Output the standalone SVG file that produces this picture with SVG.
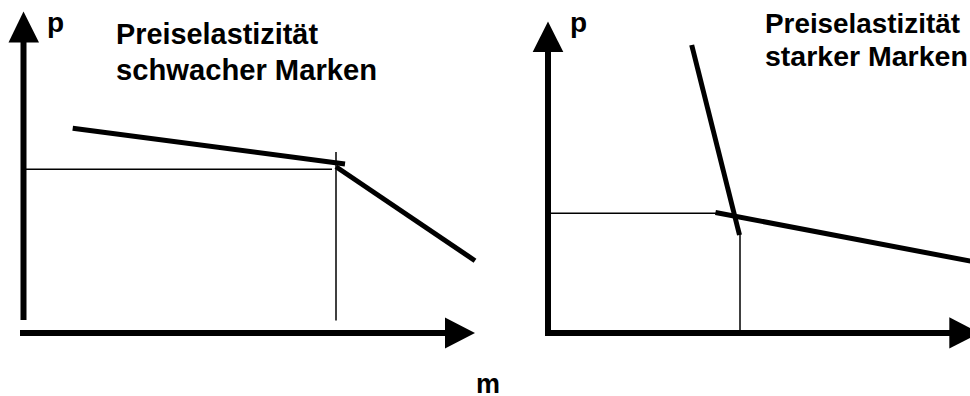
<svg xmlns="http://www.w3.org/2000/svg" width="970" height="396" viewBox="0 0 970 396">
<style>
.axis{stroke:#000;stroke-width:6;fill:none}
.curve{stroke:#000;stroke-width:5;fill:none}
.thin{stroke:#000;stroke-width:1.5;fill:none}
.head{fill:#000}
.t{font-family:"Liberation Sans",Arial,sans-serif;font-weight:bold;fill:#000}
</style>
<rect width="970" height="396" fill="#fff"/>
<g id="left-chart">
  <g id="left-axes">
    <line class="axis" x1="23.5" y1="320" x2="23.5" y2="40"/>
    <polygon class="head" points="23.5,11.5 8.5,42.5 39,42.5"/>
    <line class="axis" x1="20" y1="333" x2="447" y2="333"/>
    <polygon class="head" points="475,333 445,317.5 445,348.5"/>
  </g>
  <g id="left-guides">
    <line class="thin" x1="25" y1="169.3" x2="332" y2="169.3"/>
    <line class="thin" x1="336" y1="152" x2="336" y2="320.5"/>
  </g>
  <g id="left-curves">
    <line class="curve" x1="72.7" y1="128.3" x2="345" y2="164"/>
    <line class="curve" x1="336" y1="166.7" x2="475" y2="260.7"/>
  </g>
  <text class="t" x="47" y="32" font-size="28">p</text>
  <text class="t" x="116" y="44" font-size="29" textLength="202" lengthAdjust="spacingAndGlyphs">Preiselastizität</text>
  <text class="t" x="116" y="80" font-size="29" textLength="261" lengthAdjust="spacingAndGlyphs">schwacher Marken</text>
</g>
<g id="right-chart">
  <g id="right-axes">
    <line class="axis" x1="548" y1="336" x2="548" y2="50"/>
    <polygon class="head" points="548,21.5 532.7,52 563.3,52"/>
    <line class="axis" x1="545" y1="333" x2="952" y2="333"/>
    <polygon class="head" points="980,333 949.3,317.3 949.3,348.5"/>
  </g>
  <g id="right-guides">
    <line class="thin" x1="549" y1="213.3" x2="716" y2="213.3"/>
    <line class="thin" x1="740" y1="234" x2="740" y2="331"/>
  </g>
  <g id="right-curves">
    <line class="curve" x1="691.7" y1="45" x2="739.5" y2="235"/>
    <line class="curve" x1="715.5" y1="212.5" x2="975" y2="262"/>
  </g>
  <text class="t" x="570" y="32" font-size="28">p</text>
  <text class="t" x="765" y="33" font-size="28" textLength="195" lengthAdjust="spacingAndGlyphs">Preiselastizität</text>
  <text class="t" x="765" y="66" font-size="28.5">starker Marken</text>
</g>
<text class="t" x="488" y="393" font-size="27" text-anchor="middle">m</text>
</svg>
